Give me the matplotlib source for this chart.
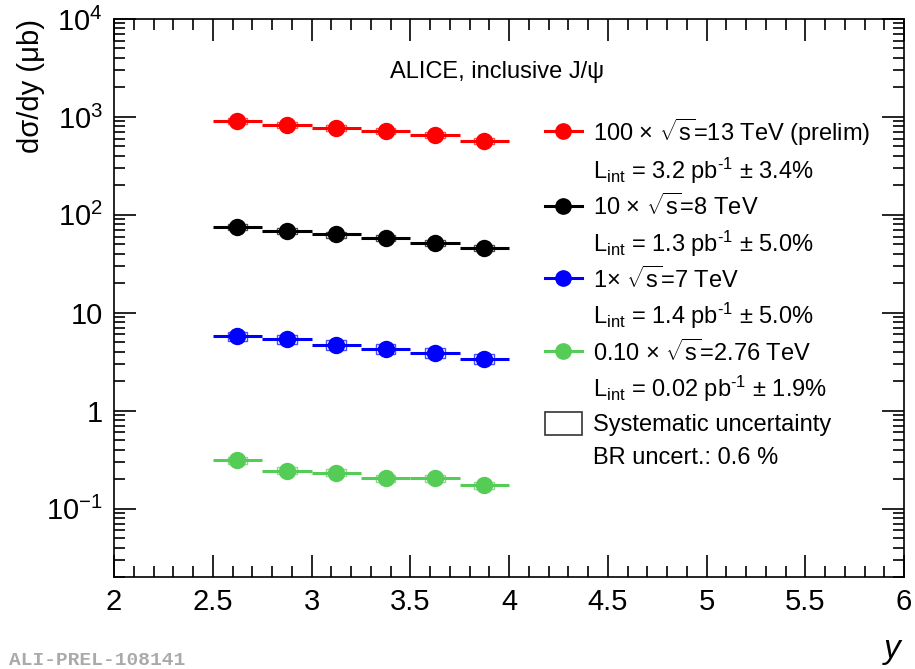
#!/usr/bin/env python3

import numpy as np
import matplotlib
matplotlib.use('Agg')
import matplotlib.pyplot as plt
from matplotlib.lines import Line2D
from matplotlib.patches import Rectangle
from matplotlib.ticker import FixedLocator, FuncFormatter, LogLocator, MultipleLocator

plt.rcParams['font.family'] = ['Liberation Sans', 'DejaVu Sans']
plt.rcParams['mathtext.fontset'] = 'custom'
plt.rcParams['mathtext.rm'] = 'Liberation Sans'
plt.rcParams['mathtext.it'] = 'Liberation Sans:italic'
plt.rcParams['mathtext.sf'] = 'Liberation Sans'

# rapidity bins
y_centres = [2.625, 2.875, 3.125, 3.375, 3.625, 3.875]
y_halfwidth = 0.125

# scaled cross sections (ub)
sig_13 = [905, 826, 769, 717, 655, 568]
sig_8 = [74.6, 68.6, 63.0, 57.7, 51.8, 46.1]
sig_7 = [5.78, 5.35, 4.72, 4.30, 3.91, 3.40]
sig_276 = [0.313, 0.244, 0.233, 0.205, 0.205, 0.173]

# relative uncertainties
stat_13 = [0.03, 0.03, 0.03, 0.03, 0.04, 0.05]
sys_13 = [0.07, 0.07, 0.07, 0.07, 0.07, 0.07]
stat_8 = [0.03, 0.03, 0.03, 0.03, 0.04, 0.05]
sys_8 = [0.07, 0.07, 0.07, 0.07, 0.07, 0.07]
stat_7 = [0.04, 0.04, 0.04, 0.04, 0.05, 0.05]
sys_7 = [0.11, 0.11, 0.11, 0.11, 0.11, 0.11]
stat_276 = [0.06, 0.06, 0.06, 0.06, 0.07, 0.08]
sys_276 = [0.08, 0.08, 0.08, 0.08, 0.08, 0.08]

labels = [r'100 × $\sqrt{\rm s}$=13 TeV (prelim)',
          r'10 × $\sqrt{\rm s}$=8 TeV',
          r'1× $\sqrt{\rm s}$=7 TeV',
          r'0.10 × $\sqrt{\rm s}$=2.76 TeV']
lumi = [r'L$_{\rm int}$ = 3.2 pb$^{\text{-1}}$ ± 3.4%',
        r'L$_{\rm int}$ = 1.3 pb$^{\text{-1}}$ ± 5.0%',
        r'L$_{\rm int}$ = 1.4 pb$^{\text{-1}}$ ± 5.0%',
        r'L$_{\rm int}$ = 0.02 pb$^{\text{-1}}$ ± 1.9%']
colors = ['#ff0000', '#000000', '#0000ff', '#55cc55']


def main():
    fig = plt.figure(figsize=(9.15, 6.69), dpi=100)
    ax = fig.add_axes([0.1246, 0.1375, 0.8634, 0.8341])

    series = [(sig_13, stat_13, sys_13), (sig_8, stat_8, sys_8),
              (sig_7, stat_7, sys_7), (sig_276, stat_276, sys_276)]
    x = np.array(y_centres)
    for (vals, stat, sys), c in zip(series, colors):
        v = np.array(vals)
        for xi, vi, si in zip(x, v, sys):
            ax.add_patch(Rectangle((xi - 0.05, vi * (1 - si)), 0.1,
                                   vi * 2 * si, fill=False, edgecolor=c,
                                   lw=1.0, alpha=0.7, zorder=4))
        ax.errorbar(x, v, xerr=y_halfwidth, yerr=v * np.array(stat),
                    fmt='o', color=c, ms=11.5, elinewidth=2.2, capsize=0,
                    zorder=3)

    ax.set_xlim(2, 6)
    ax.set_ylim(0.02, 1e4)
    ax.set_yscale('log')
    ax.xaxis.set_major_locator(MultipleLocator(0.5))
    ax.xaxis.set_minor_locator(MultipleLocator(0.1))
    ax.xaxis.set_major_formatter(FuncFormatter(lambda v, p: f'{v:g}'))
    ax.yaxis.set_major_locator(FixedLocator([0.1, 1, 10, 100, 1000, 1e4]))
    ax.yaxis.set_minor_locator(LogLocator(base=10, subs=np.arange(2, 10)))
    ytl = {0.1: r'$10^{-1}$', 1: '1', 10: '10', 100: r'$10^{2}$',
           1000: r'$10^{3}$', 1e4: r'$10^{4}$'}
    ax.yaxis.set_major_formatter(
        FuncFormatter(lambda v, p: min(ytl.items(), key=lambda kv: abs(np.log10(kv[0]) - np.log10(v)))[1]))
    ax.tick_params(which='both', direction='in', top=True, right=True,
                   labelsize=21, width=1.2)
    ax.tick_params(which='major', length=16, pad=8)
    ax.tick_params(which='minor', length=8)
    for s in ax.spines.values():
        s.set_linewidth(1.2)

    ax.set_ylabel('dσ/dy (μb)', fontsize=21, loc='top', labelpad=1)
    ax.set_xlabel(r'$y$', fontsize=24, loc='right', labelpad=14)

    ax.text(0.485, 0.905, 'ALICE, inclusive J/ψ', fontsize=17,
            ha='center', va='center', transform=ax.transAxes)

    handles, texts = [], []
    blank = Line2D([], [], linestyle='none')
    for lab, lu, c in zip(labels, lumi, colors):
        handles.append(Line2D([], [], color=c, marker='o', ms=11, lw=2.2))
        texts.append(lab)
        handles.append(blank)
        texts.append(lu)
    handles.append(Rectangle((0, 0), 1, 1, fill=False, edgecolor='#333333',
                             lw=1.2))
    texts.append('Systematic uncertainty')
    handles.append(blank)
    texts.append('BR uncert.: 0.6 %')
    ax.legend(handles, texts, loc='upper left',
              bbox_to_anchor=(0.545, 0.826), frameon=False, fontsize=17,
              handlelength=1.6, handleheight=1.1, handletextpad=0.45,
              labelspacing=0.34, borderpad=0, borderaxespad=0)

    fig.text(0.01, 0.0, 'ALI-PREL-108141', fontsize=14, color='#aaaaaa',
             family='Liberation Mono', weight='bold', ha='left', va='bottom')

    fig.savefig('out.png', dpi=100)


if __name__ == '__main__':
    main()
